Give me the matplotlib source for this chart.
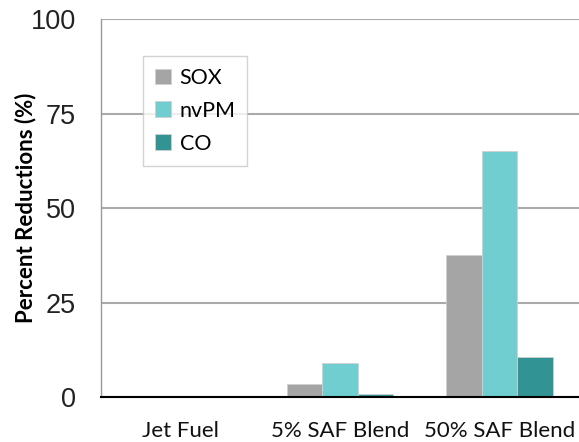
import matplotlib
matplotlib.use("Agg")
import matplotlib.pyplot as plt
import numpy as np

categories = ["Jet Fuel", "5% SAF Blend", "50% SAF Blend"]
series_names = ["SOX", "nvPM", "CO"]
sox = [0, 3.4, 37.6]
nvpm = [0, 9.1, 65.0]
co = [0, 0.9, 10.7]
yticks = [0, 25, 50, 75, 100]
colors = ["#A5A5A5", "#70CED0", "#319393"]

fig = plt.figure(figsize=(5.79, 4.42), dpi=100)
ax = fig.add_axes([0.1744, 0.1018, 0.8256, 0.855])

x = np.arange(len(categories))
w = 0.223
for i, (vals, name, c) in enumerate(zip([sox, nvpm, co], series_names, colors)):
    ax.bar(x + (i - 1) * w, vals, w, color=c, label=name, edgecolor="#d0d0d0", linewidth=0.6, zorder=3)

ax.set_xlim(-0.5, 2.5)
ax.set_ylim(0, 100)
ax.set_yticks(yticks)
ax.set_yticklabels([str(t) for t in yticks], fontsize=19.5, family="Liberation Sans", color="#222222")
ax.yaxis.grid(True, color="#AAAAAA", linewidth=1.5, zorder=0)
ax.set_xticks(x)
ax.set_xticklabels(categories, fontsize=16, family="Lato", color="#111111")
ax.tick_params(axis="both", length=0)
ax.tick_params(axis="x", pad=17)
ax.tick_params(axis="y", pad=18)
for s in ["top", "right"]:
    ax.spines[s].set_visible(False)
ax.spines["left"].set_color("#999999")
ax.spines["left"].set_linewidth(1.0)
ax.spines["bottom"].set_color("black")
ax.spines["bottom"].set_linewidth(1.5)
ax.spines["bottom"].set_zorder(4)
ax.set_ylabel("Percent Reductions (%)", fontsize=16, fontweight="bold", family="Lato", labelpad=-4)

leg = ax.legend(loc="upper left", bbox_to_anchor=(0.088, 0.902), frameon=True, fancybox=False,
                edgecolor="#C8C8C8", prop={"family": "Lato", "size": 15.5},
                handlelength=0.75, handleheight=0.75, handletextpad=0.4, labelspacing=0.6,
                borderpad=0.55, borderaxespad=0)
leg.get_frame().set_linewidth(1.0)
leg.set_zorder(5)

fig.savefig("out.png", dpi=100)
